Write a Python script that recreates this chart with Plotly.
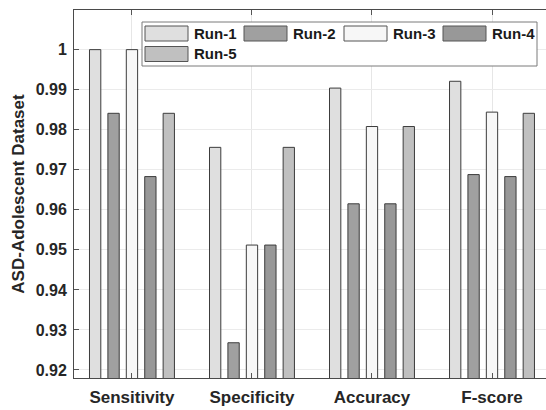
import plotly.graph_objects as go

# Metrics (x categories) and per-run scores
metrics = ["Sensitivity", "Specificity", "Accuracy", "F-score"]
run_names = ["Run-1", "Run-2", "Run-3", "Run-4", "Run-5"]
run1 = [1.0, 0.9756, 0.9904, 0.9921]
run2 = [0.9841, 0.9268, 0.9615, 0.9688]
run3 = [1.0, 0.9512, 0.9808, 0.9844]
run4 = [0.9683, 0.9512, 0.9615, 0.9683]
run5 = [0.9841, 0.9756, 0.9808, 0.9841]
runs = [run1, run2, run3, run4, run5]
y_ticks = [0.92, 0.93, 0.94, 0.95, 0.96, 0.97, 0.98, 0.99, 1.0]
y_tick_text = ["0.92", "0.93", "0.94", "0.95", "0.96", "0.97", "0.98", "0.99", "1"]

colors = ["#dfdfdf", "#a0a0a0", "#f7f7f7", "#989898", "#c0c0c0"]
edge = "#3c3c3c"
FONT = "Liberation Sans, Arial, sans-serif"

W, H = 546, 410
L, R, T, B = 74, 0, 10, 32
x_pos = [1, 2, 3, 4]

fig = go.Figure()
for name, vals, c in zip(run_names, runs, colors):
    fig.add_trace(go.Bar(
        x=x_pos, y=vals, name=name,
        marker=dict(color=c, line=dict(color=edge, width=1)),
        showlegend=False,
    ))

# pixel -> paper helpers for the legend box
pw, ph = W - L - R, H - T - B
def px(x):
    return (x - L) / pw
def py(y):
    return 1 - (y - T) / ph

shapes = [dict(type="rect", xref="paper", yref="paper",
               x0=px(142), x1=px(537), y0=py(66), y1=py(22),
               fillcolor="white", line=dict(color="#7a7a7a", width=1), layer="above")]
annotations = []
slots = [(145, 33.5), (244, 33.5), (344, 33.5), (443, 33.5), (145, 54)]
for (sx, sy), name, c in zip(slots, run_names, colors):
    shapes.append(dict(type="rect", xref="paper", yref="paper",
                       x0=px(sx), x1=px(sx + 43), y0=py(sy + 7.5), y1=py(sy - 7.5),
                       fillcolor=c, line=dict(color="#555555", width=1), layer="above"))
    annotations.append(dict(xref="paper", yref="paper", x=px(sx + 47), y=py(sy),
                            xanchor="left", yanchor="middle", showarrow=False,
                            text=name, font=dict(family=FONT, size=15, color="#1a1a1a", weight="bold")))

fig.update_layout(
    width=W, height=H,
    margin=dict(l=L, r=R, t=T, b=B),
    paper_bgcolor="white", plot_bgcolor="white",
    barmode="group", bargap=0.233, bargroupgap=0.386,
    shapes=shapes, annotations=annotations,
    font=dict(family=FONT, color="#262626"),
)
fig.update_xaxes(
    range=[0.517, 4.45], tickvals=x_pos, ticktext=metrics,
    showgrid=True, gridcolor="#e6e6e6", gridwidth=1,
    ticks="inside", ticklen=5, tickcolor="#555555",
    showline=True, linecolor="#4a4a4a", linewidth=1, mirror="ticks",
    tickfont=dict(family=FONT, size=17, color="#262626", weight="bold"),
    ticklabelstandoff=4,
    zeroline=False,
)
fig.update_yaxes(
    range=[0.918, 1.0099], tickvals=y_ticks, ticktext=y_tick_text,
    showgrid=True, gridcolor="#ebebeb", gridwidth=1,
    ticks="inside", ticklen=5, tickcolor="#555555",
    showline=True, linecolor="#4a4a4a", linewidth=1,
    tickfont=dict(family=FONT, size=16, color="#262626", weight="bold"),
    ticklabelstandoff=3,
    title=dict(text="ASD-Adolescent Dataset", standoff=6,
               font=dict(family=FONT, size=17, color="#262626", weight="bold")),
    zeroline=False,
)

fig.write_html("out.html")
